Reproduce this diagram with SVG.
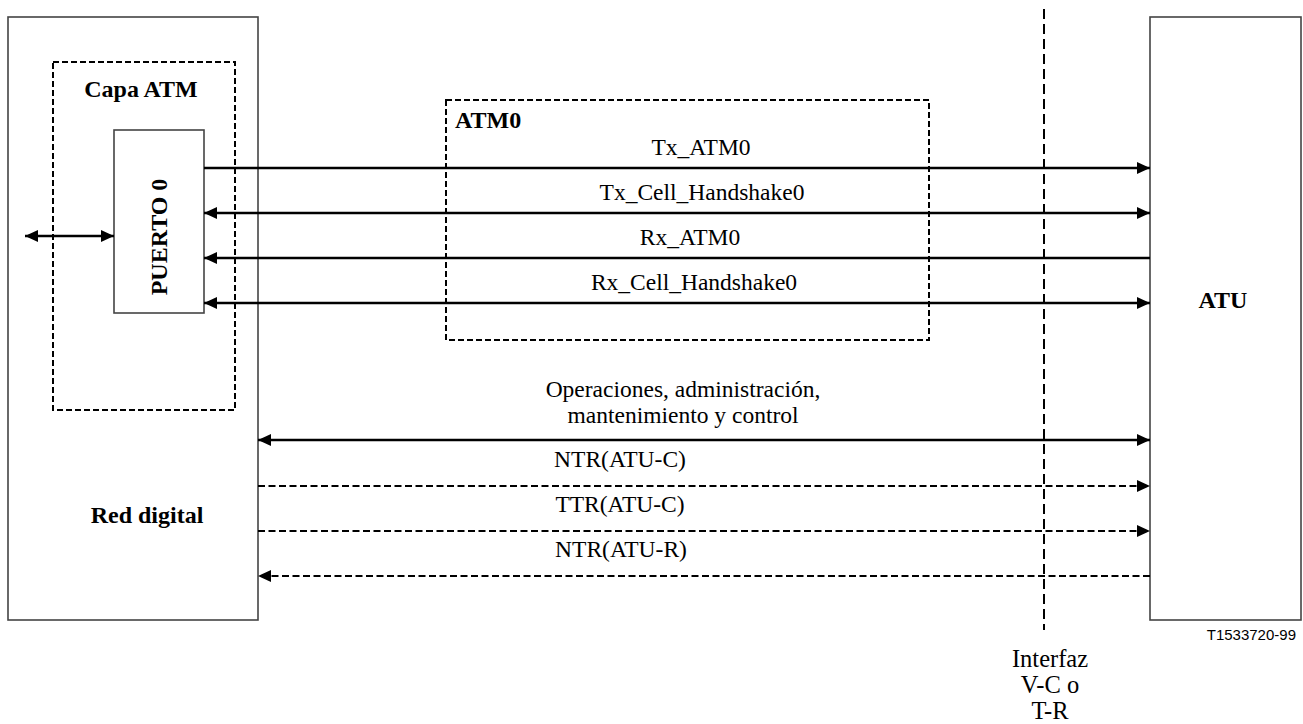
<svg xmlns="http://www.w3.org/2000/svg" width="1303" height="724" viewBox="0 0 1303 724">
<style>
.box{fill:none;stroke:#444;stroke-width:1.6}
.dbox{fill:none;stroke:#000;stroke-width:2;stroke-dasharray:6,3}
.ln{fill:none;stroke:#000;stroke-width:2.5}
.dl{fill:none;stroke:#000;stroke-width:2;stroke-dasharray:7,3.5}
.t{font-family:"Liberation Serif","Times New Roman",serif;font-size:23.5px;fill:#000}
.t2{font-family:"Liberation Serif","Times New Roman",serif;font-size:24.5px;fill:#000}
.b{font-family:"Liberation Serif","Times New Roman",serif;font-size:24px;font-weight:bold;fill:#000}
.s{font-family:"Liberation Sans",Arial,sans-serif;font-size:15px;fill:#000}
</style>
<defs>
<marker id="ah" markerUnits="userSpaceOnUse" markerWidth="14" markerHeight="12" refX="13" refY="6" orient="auto-start-reverse" viewBox="0 0 14 12">
<path d="M0,0 L13,6 L0,12 z" fill="#000"/>
</marker>
</defs>
<g id="red-digital">
<rect class="box" x="8" y="17" width="250" height="603"/>
<text class="b" x="147" y="523" text-anchor="middle">Red digital</text>
</g>
<g id="capa-atm">
<rect class="dbox" x="53" y="62" width="182" height="348"/>
<text class="b" x="141" y="97" text-anchor="middle">Capa ATM</text>
</g>
<g id="puerto0">
<rect class="box" x="114" y="130" width="90" height="183" fill="#fff"/>
<text class="b" transform="translate(167,237) rotate(-90)" text-anchor="middle">PUERTO 0</text>
</g>
<g id="atm0">
<rect class="dbox" x="446" y="100" width="483" height="240"/>
<text class="b" x="455" y="128">ATM0</text>
</g>
<g id="atu">
<rect class="box" x="1150" y="17" width="151" height="603"/>
<text class="b" x="1223" y="308" text-anchor="middle">ATU</text>
</g>
<g id="interfaz">
<line x1="1044" y1="9" x2="1044" y2="630" stroke="#000" stroke-width="2" stroke-dasharray="10,5"/>
<text class="t2" x="1050" y="667" text-anchor="middle">Interfaz</text>
<text class="t2" x="1050" y="693" text-anchor="middle">V-C o</text>
<text class="t2" x="1050" y="719" text-anchor="middle">T-R</text>
</g>
<g id="connectors">
<line class="ln" x1="25" y1="236" x2="114" y2="236" marker-start="url(#ah)" marker-end="url(#ah)"/>
<line class="ln" x1="204" y1="168" x2="1150" y2="168" marker-end="url(#ah)"/>
<line class="ln" x1="204" y1="213" x2="1150" y2="213" marker-start="url(#ah)" marker-end="url(#ah)"/>
<line class="ln" x1="1150" y1="258" x2="204" y2="258" marker-end="url(#ah)"/>
<line class="ln" x1="204" y1="303" x2="1150" y2="303" marker-start="url(#ah)" marker-end="url(#ah)"/>
<line class="ln" x1="258" y1="440" x2="1150" y2="440" marker-start="url(#ah)" marker-end="url(#ah)"/>
<line class="dl" x1="258" y1="486" x2="1150" y2="486" marker-end="url(#ah)"/>
<line class="dl" x1="258" y1="531" x2="1150" y2="531" marker-end="url(#ah)"/>
<line class="dl" x1="1150" y1="576" x2="258" y2="576" marker-end="url(#ah)"/>
</g>
<g id="labels">
<text class="t" x="701" y="155" text-anchor="middle">Tx_ATM0</text>
<text class="t" x="702" y="200" text-anchor="middle">Tx_Cell_Handshake0</text>
<text class="t" x="690" y="245" text-anchor="middle">Rx_ATM0</text>
<text class="t" x="694" y="290" text-anchor="middle">Rx_Cell_Handshake0</text>
<text class="t" x="683" y="397" text-anchor="middle">Operaciones, administración,</text>
<text class="t" x="683" y="423" text-anchor="middle">mantenimiento y control</text>
<text class="t" x="620" y="467" text-anchor="middle">NTR(ATU-C)</text>
<text class="t" x="620" y="512" text-anchor="middle">TTR(ATU-C)</text>
<text class="t" x="621" y="557" text-anchor="middle">NTR(ATU-R)</text>
<text class="s" x="1296" y="640" text-anchor="end">T1533720-99</text>
</g>
</svg>
